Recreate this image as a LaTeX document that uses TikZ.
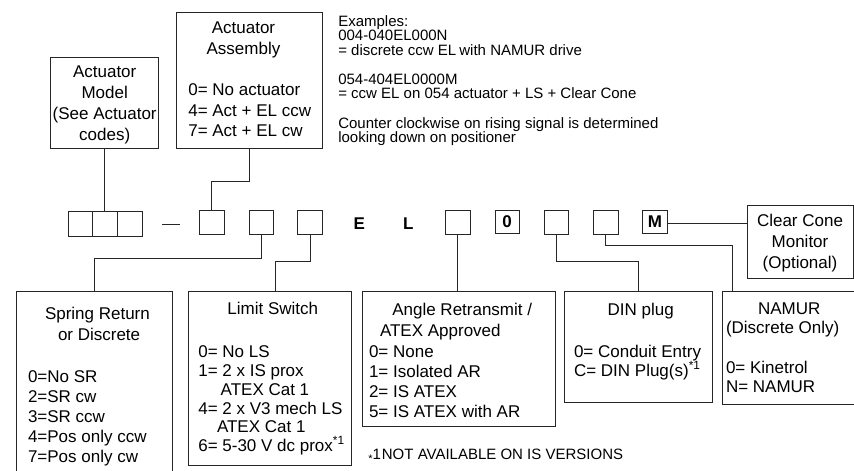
\documentclass[tikz,border=0pt]{standalone}
\usepackage{fontspec}
\setmainfont{Liberation Sans}
\begin{document}
\begin{tikzpicture}[x=1pt,y=-1pt,
  box/.style={draw=black!85, line width=1pt, inner sep=0pt, outer sep=0pt, anchor=north west},
  conn/.style={draw=black!85, line width=1pt},
  tx/.style={inner sep=0pt, outer sep=0pt, font=\fontsize{17}{20}\selectfont},
  sm/.style={inner sep=0pt, outer sep=0pt, font=\fontsize{15}{17}\selectfont},
  bl/.style={inner sep=0pt, outer sep=0pt, font=\fontsize{17}{20}\selectfont\bfseries}]
\clip (0,0) rectangle (854,471);
% boxes
\node[box, minimum width=108pt, minimum height=91.4pt] (am) at (50.7,57.3) {};
\node[box, minimum width=146.3pt, minimum height=136.4pt] (aa) at (176,12.3) {};
\node[box, minimum width=24.4pt, minimum height=25pt] (c1) at (68.3,211) {};
\node[box, minimum width=24.6pt, minimum height=25pt] (c2) at (92.7,211) {};
\node[box, minimum width=25pt, minimum height=25pt] (c3) at (117.3,211) {};
\node[box, minimum width=24.7pt, minimum height=24.3pt] (b1) at (199.3,210) {};
\node[box, minimum width=24.3pt, minimum height=24.3pt] (b2) at (249,210) {};
\node[box, minimum width=24.6pt, minimum height=24.3pt] (b3) at (297.7,210) {};
\node[box, minimum width=24.3pt, minimum height=24.3pt] (b4) at (445.7,210) {};
\node[box, minimum width=24.3pt, minimum height=23.3pt] (b0) at (495,210) {};
\node[box, minimum width=24.7pt, minimum height=24.3pt] (b5) at (544,210) {};
\node[box, minimum width=25pt, minimum height=24.3pt] (b6) at (593.3,210) {};
\node[box, minimum width=24.6pt, minimum height=23.3pt] (bm) at (642.7,210) {};
\node[box, minimum width=105.6pt, minimum height=73.3pt] (cc) at (747.7,205) {};
\node[box, minimum width=155.6pt, minimum height=200pt] (sr) at (16.7,291) {};
\node[box, minimum width=163.5pt, minimum height=174pt] (ls) at (188,291) {};
\node[box, minimum width=192.5pt, minimum height=135.7pt] (ar) at (362.5,291) {};
\node[box, minimum width=147.8pt, minimum height=111pt] (din) at (564.5,291) {};
\node[box, minimum width=160pt, minimum height=113pt] (nm) at (722,291) {};
% dash
\draw[conn] (162.3,224) -- (180.3,224);
% letters in code
\node[bl, anchor=base] (tE) at (359.3,229) {E};
\node[bl, anchor=base] (tL) at (408.3,229) {L};
\node[bl] (t0) at (b0.center) {0};
\node[bl] (tM) at (bm.center) {M};
% connectors
\draw[conn] (am.south) -- (am.south |- c2.north);
\draw[conn] (aa.south) -- ++(0,33) -| (b1.north);
\draw[conn] (b2.south) -- ++(0,24) -| (sr.north);
\draw[conn] (b3.south) -- ++(0,26.7) -| ([xshift=87pt]ls.north west);
\draw[conn] (b4.south) -- (b4.south |- ar.north);
\draw[conn] (b5.south) -- ++(0,27.4) -| (din.north);
\draw[conn] (b6.south) -- ++(0,11) -| ([xshift=10.7pt]nm.north west);
\draw[conn] ([yshift=-1.5pt]bm.east) -- ([yshift=-1.5pt]bm.east -| cc.west);
% Actuator model
\node[tx, anchor=base] (am1) at (104.7,77.5) {Actuator};
\node[tx, anchor=base] (am2) at (104.7,98.5) {Model};
\node[tx, anchor=base] (am3) at (104.7,119.5) {(See Actuator};
\node[tx, anchor=base] (am4) at (104.7,140.5) {codes)};
% Actuator assembly
\node[tx, anchor=base] (aa1) at (243.5,33) {Actuator};
\node[tx, anchor=base] (aa2) at (243.5,54) {Assembly};
\node[tx, anchor=base west] (aa3) at (188.3,95.5) {0= No actuator};
\node[tx, anchor=base west] (aa4) at (188.3,116) {4= Act + EL ccw};
\node[tx, anchor=base west] (aa5) at (188.3,136.5) {7= Act + EL cw};
% Examples
\node[sm, anchor=base west] (ex1) at (338.3,26) {Examples:};
\node[sm, anchor=base west] (ex2) at (338.3,40.5) {004-040EL000N};
\node[sm, anchor=base west] (ex3) at (338.3,55) {= discrete ccw EL\kern-1pt\ with NAMUR drive};
\node[sm, anchor=base west] (ex4) at (338.3,84) {054-404EL0000M};
\node[sm, anchor=base west] (ex5) at (338.3,98.5) {= ccw EL on 054 actuator + LS + Clear Cone};
\node[sm, anchor=base west] (ex6) at (338.3,128) {Counter clockwise on rising signal is determined};
\node[sm, anchor=base west] (ex7) at (338.3,142.5) {looking down on positioner};
% Clear cone
\node[tx, anchor=base] (cc1) at (800,226.5) {Clear Cone};
\node[tx, anchor=base] (cc2) at (800,247.5) {Monitor};
\node[tx, anchor=base] (cc3) at (800,268.5) {(Optional)};
% Spring return
\node[tx, anchor=base west] (sr1) at (45,319) {Spring Return};
\node[tx, anchor=base west] (sr2) at (58,340) {or Discrete};
\node[tx, anchor=base west] (sr3) at (28,382) {0=No SR};
\node[tx, anchor=base west] (sr4) at (28,402) {2=SR cw};
\node[tx, anchor=base west] (sr5) at (28,422) {3=SR ccw};
\node[tx, anchor=base west] (sr6) at (28,442) {4=Pos only ccw};
\node[tx, anchor=base west] (sr7) at (28,462) {7=Pos only cw};
% Limit switch
\node[tx, anchor=base] (ls1) at (272.8,314) {Limit Switch};
\node[tx, anchor=base west] (ls2) at (198.3,357) {0= No LS};
\node[tx, anchor=base west] (ls3) at (198.3,376.5) {1= 2 x IS prox};
\node[tx, anchor=base west] (ls4) at (220.7,395.3) {ATEX Cat 1};
\node[tx, anchor=base west] (ls5) at (198.3,414.3) {4= 2 x V3 mech LS};
\node[tx, anchor=base west] (ls6) at (217,432.7) {ATEX Cat 1};
\node[tx, anchor=base west] (ls7) at (198.3,451) {6= 5-30 V dc prox\textsuperscript{*1}};
% Angle retransmit
\node[tx, anchor=base west] (ar1) at (392.3,315) {Angle Retransmit /};
\node[tx, anchor=base west] (ar2) at (380,336) {ATEX Approved};
\node[tx, anchor=base west] (ar3) at (369,357) {0= None};
\node[tx, anchor=base west] (ar4) at (369,377) {1= Isolated AR};
\node[tx, anchor=base west] (ar5) at (369,397) {2= IS ATEX};
\node[tx, anchor=base west] (ar6) at (369,417.5) {5= IS ATEX with AR};
% DIN plug
\node[tx, anchor=base] (din1) at (640.7,315) {DIN plug};
\node[tx, anchor=base west] (din2) at (574,357.7) {0= Conduit Entry};
\node[tx, anchor=base west] (din3) at (574,376) {C= DIN Plug(s)\textsuperscript{*1}};
% NAMUR
\node[tx, anchor=base] (nm1) at (789.2,314) {NAMUR};
\node[tx, anchor=base west] (nm2) at (726,333) {(Discrete Only)};
\node[tx, anchor=base west] (nm3) at (726,373.3) {0= Kinetrol};
\node[tx, anchor=base west] (nm4) at (726,392) {N= NAMUR};
% footnote
\node[sm, anchor=base west] (fn) at (368.3,459.3) {\raisebox{-0.35ex}{\fontsize{11}{11}\selectfont *}1\kern1pt NOT AVAILABLE ON IS VERSIONS};
\end{tikzpicture}
\end{document}
